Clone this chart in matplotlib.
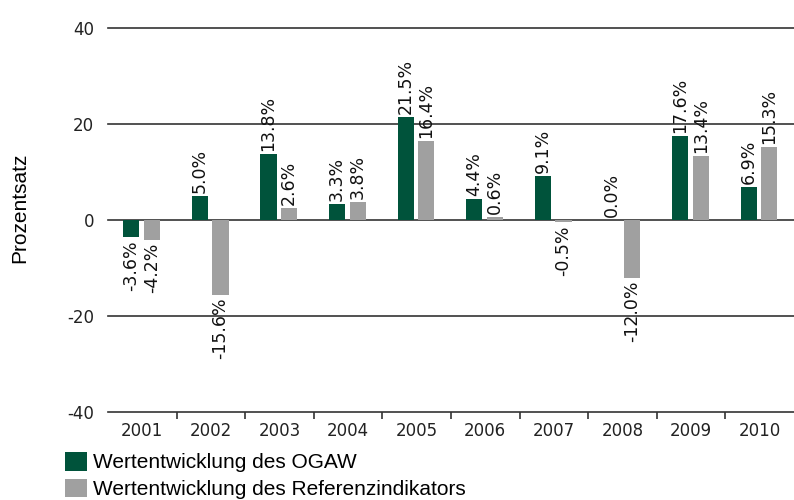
import matplotlib.pyplot as plt
import numpy as np

years = ["2001", "2002", "2003", "2004", "2005", "2006", "2007", "2008", "2009", "2010"]
ogaw = [-3.6, 5.0, 13.8, 3.3, 21.5, 4.4, 9.1, 0.0, 17.6, 6.9]
referenz = [-4.2, -15.6, 2.6, 3.8, 16.4, 0.6, -0.5, -12.0, 13.4, 15.3]
yticks = [-40, -20, 0, 20, 40]

green = "#00533b"
grey = "#a0a0a0"

fig = plt.figure(figsize=(7.94, 5.0), dpi=100)
ax = fig.add_axes([108 / 794, 1 - 412 / 500, 686 / 794, 384 / 500])

x = np.arange(len(years))
w = 0.235
b1 = ax.bar(x - 0.16, ogaw, w, color=green, label="Wertentwicklung des OGAW", zorder=3)
b2 = ax.bar(x + 0.14, referenz, w, color=grey, label="Wertentwicklung des Referenzindikators", zorder=3)

for bars, vals in ((b1, ogaw), (b2, referenz)):
    for rect, v in zip(bars, vals):
        cx = rect.get_x() + rect.get_width() / 2
        if v >= 0:
            ax.text(cx, v + 0.6, f"{v:.1f}%", rotation=90, ha="center", va="bottom",
                    fontsize=12.5, family="DejaVu Sans", color="#111", zorder=4)
        else:
            ax.text(cx, v - 0.6, f"{v:.1f}%", rotation=90, ha="center", va="top",
                    fontsize=12.5, family="DejaVu Sans", color="#111", zorder=4)

for t in yticks:
    ax.axhline(t, color="#333333", lw=1.2, clip_on=False, zorder=2)

ax.set_xlim(-0.5, len(years) - 0.5)
ax.set_ylim(-40, 40)
ax.set_yticks(yticks)
ax.set_yticklabels([str(t) for t in yticks], fontsize=12, color="#222")
ax.tick_params(axis="y", length=0, pad=10)

ax.set_xticks(x)
ax.set_xticklabels(years, fontsize=12, color="#222")
ax.set_xticks(x[:-1] + 0.5, minor=True)
ax.tick_params(axis="x", which="major", length=0, pad=7)
ax.tick_params(axis="x", which="minor", length=5, width=1.2, color="#333333", direction="out")

for s in ax.spines.values():
    s.set_visible(False)

fig.text(20 / 794, 1 - 208 / 500, "Prozentsatz", rotation=90, ha="center", va="center",
         fontsize=15, family="Liberation Sans")

ax.legend(handles=[b1, b2], loc="upper left", bbox_to_anchor=(65 / 794, 1 - 452 / 500),
          bbox_transform=fig.transFigure, frameon=False, fontsize=15,
          prop={"family": "Liberation Sans", "size": 15},
          handlelength=1.05, handleheight=1.0, handletextpad=0.3,
          labelspacing=0.3, borderpad=0, borderaxespad=0)

fig.savefig("out.png", dpi=100)
